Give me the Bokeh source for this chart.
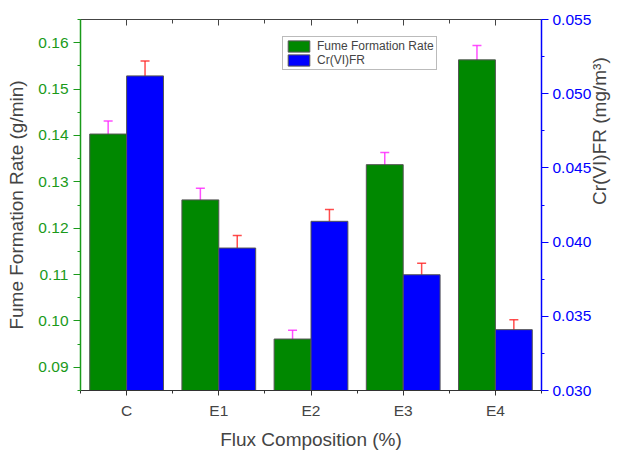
import numpy as np
from bokeh.plotting import figure
from bokeh.models import (Range1d, LinearAxis, FixedTicker, PrintfTickFormatter,
                          ColumnDataSource, Whisker, TeeHead, Legend, LegendItem,
                          CustomLabelingPolicy)
from bokeh.embed import file_html
from bokeh.resources import INLINE

categories = ["C", "E1", "E2", "E3", "E4"]
ffr = [0.1403, 0.1261, 0.0961, 0.1337, 0.1563]
ffr_err = [0.0028, 0.0025, 0.0019, 0.0026, 0.0031]
crfr = [0.0512, 0.0396, 0.0414, 0.0378, 0.0341]
crfr_err = [0.0010, 0.00084, 0.0008, 0.00077, 0.00067]
left_ticks = [0.09, 0.10, 0.11, 0.12, 0.13, 0.14, 0.15, 0.16]
right_ticks = [0.030, 0.035, 0.040, 0.045, 0.050, 0.055]

FONT = "Liberation Sans"
GREEN_BAR = "#008800"
GREEN_TXT = "#1a9a1a"
BLUE = "#0000FF"

pos = np.arange(len(categories)) + 1.0
bw = 0.4

p = figure(width=623, height=452, output_backend="svg", toolbar_location=None,
           x_range=Range1d(0.5, len(categories) + 0.5), y_range=Range1d(0.085, 0.165),
           min_border_left=80, min_border_right=80, min_border_top=19, min_border_bottom=60,
           x_axis_type=None, y_axis_type=None)
p.outline_line_color = None
p.xgrid.visible = False
p.ygrid.visible = False
p.background_fill_color = "white"
p.border_fill_color = "white"
p.extra_y_ranges = {"right": Range1d(0.030, 0.055)}

xt = FixedTicker(ticks=list(pos), minor_ticks=list(np.arange(len(categories) + 1) + 0.5))

# bottom axis
xb = LinearAxis(ticker=xt, major_label_overrides={float(x): c for x, c in zip(pos, categories)})
xb.axis_label = "Flux Composition (%)"
xb.axis_label_text_font = FONT
xb.axis_label_text_font_size = "19px"
xb.axis_label_text_font_style = "normal"
xb.axis_label_standoff = 7
xb.major_label_text_font = FONT
xb.major_label_text_font_size = "15.5px"
xb.major_label_standoff = 6
xb.axis_line_color = "#333333"
xb.major_tick_line_color = "#333333"
xb.minor_tick_line_color = "#333333"
xb.major_tick_in = 0
xb.major_tick_out = 5
xb.minor_tick_in = 0
xb.minor_tick_out = 3
p.add_layout(xb, "below")

# top axis (frame line with inward ticks, no labels)
xtop = LinearAxis(ticker=xt)
xtop.major_label_policy = CustomLabelingPolicy(code="""
for (const i of indices) { indices.unset(i) }
return indices
""")
xtop.major_label_text_font_size = "1px"
xtop.major_label_standoff = 0
xtop.axis_line_color = "#444444"
xtop.major_tick_line_color = "#444444"
xtop.minor_tick_line_color = "#444444"
xtop.major_tick_in = 6
xtop.major_tick_out = 0
xtop.minor_tick_in = 4
xtop.minor_tick_out = 0
p.add_layout(xtop, "above")

# left axis
yl = LinearAxis(ticker=FixedTicker(ticks=left_ticks,
                                   minor_ticks=[t + 0.005 for t in [0.08] + left_ticks]),
                formatter=PrintfTickFormatter(format="%.2f"))
yl.axis_label = "Fume Formation Rate (g/min)"
yl.axis_label_text_font = FONT
yl.axis_label_text_font_size = "19px"
yl.axis_label_text_font_style = "normal"
yl.axis_label_standoff = 8
yl.major_label_text_font = FONT
yl.major_label_text_font_size = "15.5px"
yl.major_label_text_color = GREEN_TXT
yl.major_label_standoff = 5
yl.axis_line_color = GREEN_TXT
yl.major_tick_line_color = GREEN_TXT
yl.minor_tick_line_color = GREEN_TXT
yl.axis_line_width = 1.5
yl.major_tick_in = 0
yl.major_tick_out = 7
yl.minor_tick_in = 0
yl.minor_tick_out = 3
p.add_layout(yl, "left")

# right axis
yr = LinearAxis(y_range_name="right",
                ticker=FixedTicker(ticks=right_ticks,
                                   minor_ticks=[t + 0.0025 for t in right_ticks[:-1]]),
                formatter=PrintfTickFormatter(format="%.3f"))
yr.axis_label = "Cr(VI)FR (mg/m³)"
yr.axis_label_orientation = np.pi / 2
yr.axis_label_text_font = FONT
yr.axis_label_text_font_size = "19px"
yr.axis_label_text_font_style = "normal"
yr.axis_label_text_baseline = "top"
yr.axis_label_standoff = 5
yr.major_label_text_font = FONT
yr.major_label_text_font_size = "15.5px"
yr.major_label_text_color = BLUE
yr.major_label_standoff = 4
yr.axis_line_color = BLUE
yr.major_tick_line_color = BLUE
yr.minor_tick_line_color = BLUE
yr.axis_line_width = 1.5
yr.major_tick_in = 0
yr.major_tick_out = 7
yr.minor_tick_in = 0
yr.minor_tick_out = 3
p.add_layout(yr, "right")

src_g = ColumnDataSource(dict(x=pos - bw / 2, top=ffr,
                              upper=[v + e for v, e in zip(ffr, ffr_err)],
                              lower=[v - e for v, e in zip(ffr, ffr_err)]))
src_b = ColumnDataSource(dict(x=pos + bw / 2, top=crfr,
                              upper=[v + e for v, e in zip(crfr, crfr_err)],
                              lower=[v - e for v, e in zip(crfr, crfr_err)]))

rg = p.vbar(x="x", top="top", bottom=0, width=bw, source=src_g,
            fill_color=GREEN_BAR, line_color="#555555", line_width=1)
rb = p.vbar(x="x", top="top", bottom=0, width=bw, source=src_b, y_range_name="right",
            fill_color=BLUE, line_color="#555555", line_width=1)

wg = Whisker(source=src_g, base="x", upper="upper", lower="lower", dimension="height",
             line_color="#FF22FF", line_alpha=0.8, line_width=1.5,
             upper_head=TeeHead(size=9, line_color="#FF22FF", line_alpha=0.8, line_width=1.5),
             lower_head=TeeHead(size=9, line_color="#FF22FF", line_alpha=0.8, line_width=1.5))
wb = Whisker(source=src_b, base="x", upper="upper", lower="lower", dimension="height",
             y_range_name="right",
             line_color="#FF2020", line_alpha=0.8, line_width=1.5,
             upper_head=TeeHead(size=9, line_color="#FF2020", line_alpha=0.8, line_width=1.5),
             lower_head=TeeHead(size=9, line_color="#FF2020", line_alpha=0.8, line_width=1.5))
p.add_layout(wg)
p.add_layout(wb)

legend = Legend(items=[LegendItem(label="Fume Formation Rate", renderers=[rg]),
                       LegendItem(label="Cr(VI)FR", renderers=[rb])],
                location=(202, 320))
legend.label_text_font = FONT
legend.label_text_font_size = "12px"
legend.label_height = 14
legend.glyph_height = 14
legend.glyph_width = 27
legend.label_standoff = 5
legend.padding = 2
legend.spacing = 0
legend.margin = 0
legend.border_line_color = "#777777"
legend.border_line_width = 1
legend.background_fill_color = "white"
p.add_layout(legend)

open("out.html", "w").write(file_html(p, INLINE))
